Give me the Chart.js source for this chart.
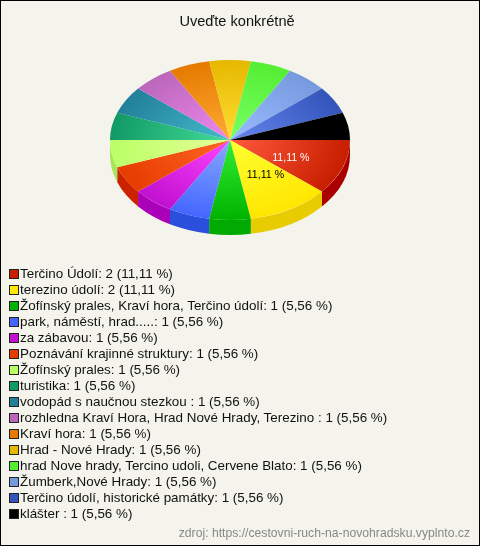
<!DOCTYPE html>
<html>
<head>
<meta charset="utf-8">
<title>Uveďte konkrétně</title>
<script src="https://cdn.jsdelivr.net/npm/chart.js@4"></script>
<style>
  html, body { margin: 0; padding: 0; background: #f4f4ec; }
  #box { position: relative; width: 480px; height: 546px; box-sizing: border-box; border: 1px solid #000; overflow: hidden;
         font-family: "Liberation Sans", Arial, sans-serif; color: #111; }
  #chart { position: absolute; left: -1px; top: -1px; }
  #title { position: absolute; left: -4px; width: 480px; top: 11px; text-align: center; font-size: 14.6px; line-height: 18px; }
  #legend { position: absolute; left: 8px; top: 265px; }
  #legend div { height: 16px; line-height: 16px; font-size: 13.4px; white-space: pre; }
  #legend i { display: inline-block; width: 8px; height: 8px; border: 1px solid #222; margin-right: 1px; vertical-align: -0.5px; }
  #source { position: absolute; right: 9px; top: 524px; font-size: 12.2px; line-height: 16px; color: #888; }
</style>
</head>
<body>
<div id="box">
  <canvas id="chart" width="480" height="546"></canvas>
  <div id="title">Uveďte konkrétně</div>
  <div id="legend"></div>
  <div id="source">zdroj: https://cestovni-ruch-na-novohradsku.vyplnto.cz</div>
</div>
<script>
const categories = ["Terčino Údolí", "terezino údolí", "Žofínský prales, Kraví hora, Terčino údolí", "park, náměstí, hrad.....", "za zábavou", "Poznávání krajinné struktury", "Žofínský prales", "turistika", "vodopád s naučnou stezkou ", "rozhledna Kraví Hora, Hrad Nové Hrady, Terezino ", "Kraví hora", "Hrad - Nové Hrady", "hrad Nove hrady, Tercino udoli, Cervene Blato", "Žumberk,Nové Hrady", "Terčino údolí, historické památky", "klášter "];
const values = [2, 2, 1, 1, 1, 1, 1, 1, 1, 1, 1, 1, 1, 1, 1, 1];
const percents = ["11,11", "11,11", "5,56", "5,56", "5,56", "5,56", "5,56", "5,56", "5,56", "5,56", "5,56", "5,56", "5,56", "5,56", "5,56", "5,56"];

const edgeColors = ["#c81e00", "#ffe600", "#00b300", "#4466ff", "#c010d0", "#e63c00", "#bbff66", "#119966", "#228099", "#bb66bb", "#e67a00", "#e6b800", "#55ee33", "#7799dd", "#3355bb", "#000000"];
const centerColors = ["#ff5a3c", "#ffff33", "#33ee33", "#88aaff", "#ff44ff", "#ff6622", "#e6ff99", "#44dd99", "#44bbcc", "#ee88ee", "#ffaa33", "#ffdd33", "#77ff66", "#99bbff", "#6688ee", "#000000"];
const sideColors = ["#aa0000", "#e6cc00", "#00aa00", "#2a4fdd", "#aa00b8", "#cc2200", "#a6e65a", "#0c8050", "#1a6c80", "#995599", "#c06000", "#c09000", "#44cc22", "#5577bb", "#224499", "#000000"];
const labelColors = ["#ffffff", "#000000"];

const squash = 2 / 3;
const depth = 15;

// flatten the pie into an ellipse and put a wall under the front half
const tiltPlugin = {
  id: "tilt",
  beforeDatasetsDraw(chart) {
    const ctx = chart.ctx;
    const arcs = chart.getDatasetMeta(0).data;
    arcs.forEach((arc, i) => {
      const start = Math.max(arc.startAngle, 0);
      const end = Math.min(arc.endAngle, Math.PI);
      if (end <= start) return;
      const ry = arc.outerRadius * squash;
      ctx.beginPath();
      ctx.ellipse(arc.x, arc.y, arc.outerRadius, ry, 0, start, end);
      ctx.ellipse(arc.x, arc.y + depth, arc.outerRadius, ry, 0, end, start, true);
      ctx.closePath();
      ctx.fillStyle = sideColors[i];
      ctx.fill();
    });
    const y = arcs[0].y;
    ctx.save();
    ctx.translate(0, y);
    ctx.scale(1, squash);
    ctx.translate(0, -y);
  },
  afterDatasetsDraw(chart) {
    const ctx = chart.ctx;
    ctx.restore();
    // only the two big slices carry a percent label
    const arcs = chart.getDatasetMeta(0).data;
    ctx.font = "10.6px 'Liberation Sans', Arial, sans-serif";
    ctx.textAlign = "center";
    ctx.textBaseline = "middle";
    arcs.forEach((arc, i) => {
      if (values[i] < 2) return;
      const mid = (arc.startAngle + arc.endAngle) / 2;
      const r = arc.outerRadius * 0.54;
      ctx.fillStyle = labelColors[i];
      const nudge = i === 0 ? [0, 3] : [3, -2];
      ctx.fillText(percents[i] + " %", arc.x + Math.cos(mid) * r + nudge[0], arc.y + Math.sin(mid) * r * squash + nudge[1]);
    });
  }
};

new Chart(document.getElementById("chart").getContext("2d"), {
  type: "pie",
  data: {
    labels: categories,
    datasets: [{
      data: values,
      borderWidth: 0,
      clip: false,
      backgroundColor: (c) => {
        const area = c.chart.chartArea;
        if (!area) return edgeColors[c.dataIndex];
        const x = (area.left + area.right) / 2;
        const y = (area.top + area.bottom) / 2;
        const g = c.chart.ctx.createRadialGradient(x, y, 0, x, y, area.width / 2);
        g.addColorStop(0, centerColors[c.dataIndex]);
        g.addColorStop(1, edgeColors[c.dataIndex]);
        return g;
      }
    }]
  },
  options: {
    responsive: false,
    devicePixelRatio: 1,
    animation: false,
    rotation: 90,
    layout: { padding: { top: 20, bottom: 286, left: 110, right: 130 } },
    events: [],
    plugins: {
      legend: { display: false },
      tooltip: { enabled: false }
    }
  },
  plugins: [tiltPlugin]
});

const legendBox = document.getElementById("legend");
categories.forEach((name, i) => {
  const row = document.createElement("div");
  const swatch = document.createElement("i");
  swatch.style.background = edgeColors[i];
  row.appendChild(swatch);
  row.appendChild(document.createTextNode(`${name}: ${values[i]} (${percents[i]} %)`));
  legendBox.appendChild(row);
});
</script>
</body>
</html>
